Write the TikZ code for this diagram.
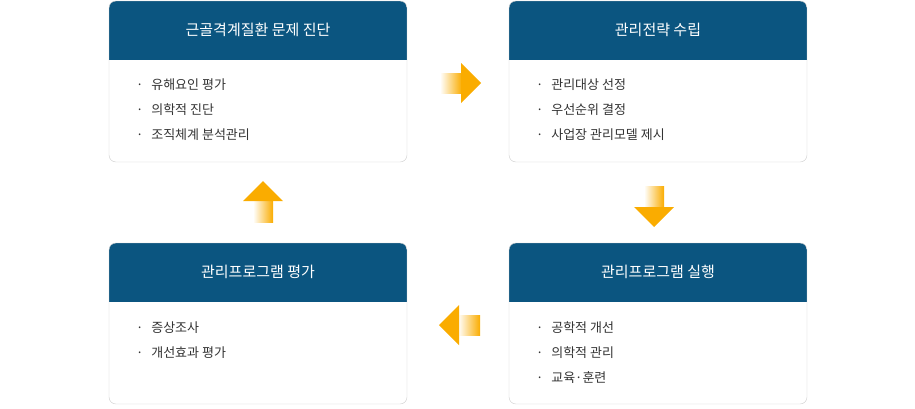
\documentclass[tikz,border=0pt]{standalone}
\usepackage{fontspec}
\setmainfont{Noto Sans CJK KR}
\usetikzlibrary{positioning}
\definecolor{headblue}{HTML}{0B5580}
\definecolor{boxline}{HTML}{CCCCCC}
\definecolor{arroworange}{HTML}{FAAC00}
\definecolor{bodytext}{HTML}{333333}
\tikzset{
  card/.style={draw=boxline, rounded corners=7pt, fill=white},
  headtext/.style={text=white, font=\fontsize{15}{18}\selectfont},
  item/.style={text=bodytext, font=\fontsize{13}{16}\selectfont, anchor=west, inner sep=0pt}
}
% one card: x, y (top left), name, title
\newcommand{\cardbox}[4]{
  \begin{scope}
    \clip[rounded corners=7pt] (#1,#2) rectangle ++(298,161);
    \fill[white] (#1,#2) rectangle ++(298,161);
    \fill[headblue] (#1,#2) rectangle ++(298,59);
  \end{scope}
  \draw[draw=boxline, rounded corners=7pt] (#1,#2) rectangle ++(298,161);
  \node[headtext] (#3) at ([shift={(149,29)}]#1,#2) {#4};
}
% one arrow: centre, angle
\newcommand{\flowarrow}[2]{
  \begin{scope}[shift={(#1)}, rotate=#2]
    \shade[left color=white, right color=arroworange] (-21,-10) rectangle (1,10);
    \fill[arroworange] (0,-20) -- (20,0) -- (0,20) -- cycle;
  \end{scope}
}
\begin{document}
\begin{tikzpicture}[x=1pt, y=-1pt]
  \useasboundingbox (0,0) rectangle (915,408);

  \cardbox{109}{1}{diag}{근골격계질환 문제 진단}
  \cardbox{509}{1}{plan}{관리전략 수립}
  \cardbox{109}{243}{eval}{관리프로그램 평가}
  \cardbox{509}{243}{run}{관리프로그램 실행}

  \node[item] (d1) at (136,85) {·\hspace{0.6em}유해요인 평가};
  \node[item] (d2) at (136,110) {·\hspace{0.6em}의학적 진단};
  \node[item] (d3) at (136,135) {·\hspace{0.6em}조직체계 분석관리};

  \node[item] (p1) at (536,85) {·\hspace{0.6em}관리대상 선정};
  \node[item] (p2) at (536,110) {·\hspace{0.6em}우선순위 결정};
  \node[item] (p3) at (536,135) {·\hspace{0.6em}사업장 관리모델 제시};

  \node[item] (e1) at (136,328) {·\hspace{0.6em}증상조사};
  \node[item] (e2) at (136,353) {·\hspace{0.6em}개선효과 평가};

  \node[item] (r1) at (536,328) {·\hspace{0.6em}공학적 개선};
  \node[item] (r2) at (536,353) {·\hspace{0.6em}의학적 관리};
  \node[item] (r3) at (536,378) {·\hspace{0.6em}교육·훈련};

  \flowarrow{461,83}{0}
  \flowarrow{654,207}{-90}
  \flowarrow{459,325}{180}
  \flowarrow{263,201}{90}
\end{tikzpicture}
\end{document}
